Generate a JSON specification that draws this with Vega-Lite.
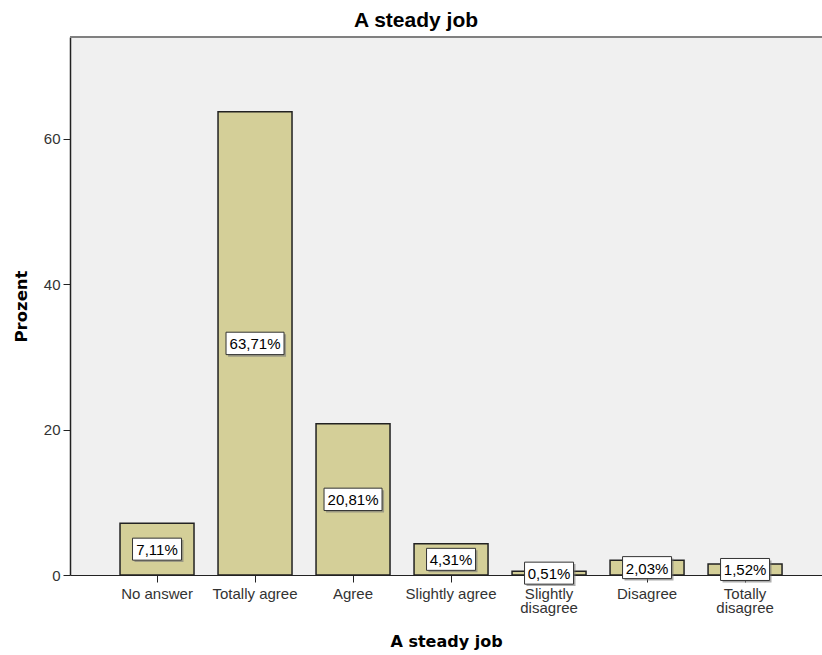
{
  "$schema": "https://vega.github.io/schema/vega-lite/v6.json",
  "autosize": {"type": "none"},
  "padding": {"left": 70, "top": 37, "right": 0, "bottom": 80},
  "width": 752,
  "height": 538,
  "background": "white",
  "title": {"text": "A steady job", "font": "Liberation Sans", "fontSize": 21, "fontWeight": "bold", "color": "#000000", "anchor": "middle", "frame": "group", "dx": -30, "dy": 25, "offset": 9, "baseline": "bottom"},
  "config": {"view": {"fill": "#f0f0f0", "stroke": null}},
  "data": {"values": [
    {"cat": "No answer", "value": 7.11, "label": "7,11%"},
    {"cat": "Totally agree", "value": 63.71, "label": "63,71%"},
    {"cat": "Agree", "value": 20.81, "label": "20,81%"},
    {"cat": "Slightly agree", "value": 4.31, "label": "4,31%"},
    {"cat": "Slightly disagree", "value": 0.51, "label": "0,51%"},
    {"cat": "Disagree", "value": 2.03, "label": "2,03%"},
    {"cat": "Totally disagree", "value": 1.52, "label": "1,52%"}
  ]},
  "resolve": {"scale": {"y": "independent"}, "axis": {"y": "independent"}},
  "layer": [
    {
      "data": {"values": [{"top": 74}]},
      "mark": {"type": "rule", "stroke": "#808080", "strokeWidth": 2},
      "encoding": {
        "y": {"field": "top", "type": "quantitative", "scale": {"domain": [0, 74], "nice": false}, "axis": null}
      }
    },
    {
      "mark": {"type": "bar", "fill": "#d4cf98", "stroke": "#222222", "strokeWidth": 1.5},
      "encoding": {
        "x": {"field": "cat", "type": "nominal", "sort": null,
          "scale": {"paddingInner": 0.245, "paddingOuter": 0.459, "align": 0.556},
          "axis": {"title": "A steady job", "labelAngle": 0, "labelFont": "Liberation Sans", "labelFontSize": 15, "labelColor": "#333333",
            "labelExpr": "datum.label == 'Slightly disagree' ? ['Slightly', 'disagree'] : datum.label == 'Totally disagree' ? ['Totally', 'disagree'] : datum.label",
            "labelLineHeight": 14, "labelPadding": 4, "tickSize": 7, "tickColor": "#222222", "domainColor": "#222222", "domainWidth": 1,
            "titleFont": "DejaVu Sans", "titleFontSize": 16, "titleFontWeight": "bold", "titleColor": "#000000", "titlePadding": 18}},
        "y": {"field": "value", "type": "quantitative", "scale": {"domain": [0, 74], "nice": false},
          "axis": {"title": "Prozent", "values": [0, 20, 40, 60], "grid": false, "labelFont": "Liberation Sans", "labelFontSize": 15, "labelColor": "#333333",
            "labelPadding": 3, "tickSize": 7, "tickColor": "#222222", "domainColor": "#222222", "domainWidth": 1.5,
            "titleFont": "DejaVu Sans", "titleFontSize": 16.5, "titleFontWeight": "bold", "titleColor": "#000000", "titlePadding": 14}}
      }
    },
    {
      "transform": [{"filter": "length(datum.label) > 5"}],
      "mark": {"type": "point", "shape": "M-0.93,-0.316L1.07,-0.316L1.07,0.456L-0.93,0.456Z", "filled": true, "fill": "#777777", "opacity": 0.6, "strokeWidth": 0, "size": 3364},
      "encoding": {
        "x": {"field": "cat", "type": "nominal", "sort": null},
        "y": {"field": "value", "type": "quantitative", "scale": {"domain": [0, 148], "nice": false}, "axis": null}
      }
    },
    {
      "transform": [{"filter": "length(datum.label) <= 5"}],
      "mark": {"type": "point", "shape": "M-0.92,-0.369L1.08,-0.369L1.08,0.529L-0.92,0.529Z", "filled": true, "fill": "#777777", "opacity": 0.6, "strokeWidth": 0, "size": 2401},
      "encoding": {
        "x": {"field": "cat", "type": "nominal", "sort": null},
        "y": {"field": "value", "type": "quantitative", "scale": {"domain": [0, 148], "nice": false}, "axis": null}
      }
    },
    {
      "transform": [{"filter": "length(datum.label) > 5"}],
      "mark": {"type": "point", "shape": "M-1,-0.386L1,-0.386L1,0.386L-1,0.386Z", "filled": false, "fill": "#ffffff", "fillOpacity": 1, "stroke": "#333333", "strokeWidth": 1, "opacity": 1, "size": 3364},
      "encoding": {
        "x": {"field": "cat", "type": "nominal", "sort": null},
        "y": {"field": "value", "type": "quantitative", "scale": {"domain": [0, 148], "nice": false}, "axis": null}
      }
    },
    {
      "transform": [{"filter": "length(datum.label) <= 5"}],
      "mark": {"type": "point", "shape": "M-1,-0.449L1,-0.449L1,0.449L-1,0.449Z", "filled": false, "fill": "#ffffff", "fillOpacity": 1, "stroke": "#333333", "strokeWidth": 1, "opacity": 1, "size": 2401},
      "encoding": {
        "x": {"field": "cat", "type": "nominal", "sort": null},
        "y": {"field": "value", "type": "quantitative", "scale": {"domain": [0, 148], "nice": false}, "axis": null}
      }
    },
    {
      "mark": {"type": "text", "font": "Liberation Sans", "fontSize": 15, "color": "#000000", "align": "center", "baseline": "middle", "dy": 1},
      "encoding": {
        "x": {"field": "cat", "type": "nominal", "sort": null},
        "y": {"field": "value", "type": "quantitative", "scale": {"domain": [0, 148], "nice": false}, "axis": null},
        "text": {"field": "label", "type": "nominal"}
      }
    }
  ]
}
